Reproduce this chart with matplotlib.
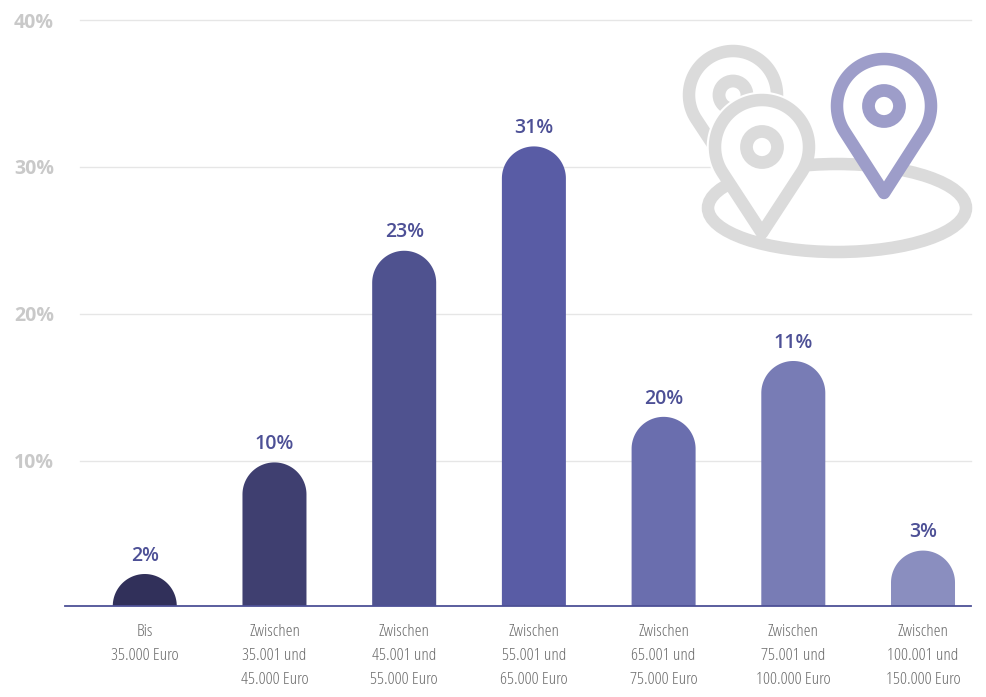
import numpy as np
import matplotlib
matplotlib.use("Agg")
import matplotlib.pyplot as plt
from matplotlib.patches import PathPatch, Ellipse, Circle, Rectangle
from matplotlib.path import Path

categories = ["Bis\n35.000 Euro", "Zwischen\n35.001 und\n45.000 Euro", "Zwischen\n45.001 und\n55.000 Euro",
              "Zwischen\n55.001 und\n65.000 Euro", "Zwischen\n65.001 und\n75.000 Euro",
              "Zwischen\n75.001 und\n100.000 Euro", "Zwischen\n100.001 und\n150.000 Euro"]
# the bar heights in the picture do not agree with the printed labels
bar_values = [2.3, 9.9, 24.3, 31.4, 13.0, 16.8, 3.9]
bar_labels = ["2%", "10%", "23%", "31%", "20%", "11%", "3%"]
bar_colors = ["#31305a", "#3f3f70", "#4f528f", "#595ca5", "#6a6eae", "#787cb5", "#8a8ebf"]
y_ticks = [10, 20, 30, 40]

GREY = "#dbdbdb"
PURPLE = "#9d9dc9"

W, H = 986, 697
fig = plt.figure(figsize=(W / 100, H / 100), dpi=100)
ax = fig.add_axes([65 / W, 1 - 606 / H, (971 - 65) / W, (606 - 20) / H])
ax.set_xlim(-0.615, 6.37)
ax.set_ylim(0.13, 40)

bar_w = 64 / 129.7
rx = bar_w / 2
ry = 32 / 14.7
base = 0.13
for i, (v, c) in enumerate(zip(bar_values, bar_colors)):
    t = np.linspace(np.pi, 0, 60)
    xs = i + rx * np.cos(t)
    ys = max(v - ry, base) + ry * np.sin(t)
    verts = [(i - rx, base)] + list(zip(xs, ys)) + [(i + rx, base), (i - rx, base)]
    ax.add_patch(PathPatch(Path(verts, closed=True), fc=c, ec="none", zorder=3))
    ax.annotate(bar_labels[i], (i, v), xytext=(0, 6), textcoords="offset points", ha="center", va="bottom",
                fontsize=14, fontweight="semibold", fontstretch="normal", family="Open Sans", color="#4d5096")

# grid starts a bit right of the axis line
for y in y_ticks:
    ax.plot([15 / 906, 1], [y, y], transform=ax.get_yaxis_transform(), color="#e6e6e6", lw=1, zorder=1,
            clip_on=False)

for s in ["top", "right", "left"]:
    ax.spines[s].set_visible(False)
ax.spines["bottom"].set_color("#4d5096")
ax.spines["bottom"].set_linewidth(1.3)
ax.spines["bottom"].set_zorder(4)

ax.set_xticks(range(len(categories)))
ax.set_xticklabels(categories, family="Open Sans", fontstretch="condensed", fontweight="light", fontsize=12.5,
                   color="#6b6b6b", linespacing=1.65)
ax.set_yticks(y_ticks)
ax.set_yticklabels([f"{y}%" for y in y_ticks], family="Open Sans", fontstretch="condensed", fontweight="bold",
                   fontsize=14, color="#c9c9c9")
ax.tick_params(axis="x", length=0, pad=13)
ax.tick_params(axis="y", length=0, pad=8)

# location icon, drawn in pixel coordinates
icon = fig.add_axes([0, 0, 1, 1], facecolor="none")
icon.set_xlim(0, W)
icon.set_ylim(H, 0)
icon.axis("off")


def pin_path(cx, cy, r, tip_y):
    d = tip_y - cy
    a = np.arccos(r / d)
    t = np.linspace(np.pi / 2 + a, np.pi / 2 - a + 2 * np.pi, 120)
    verts = [(cx, tip_y)] + list(zip(cx + r * np.cos(t), cy + r * np.sin(t))) + [(cx, tip_y)]
    return Path(verts, closed=True)


def pin(cx, cy, r, tip_y, color, ring_r, lw=9, ring_lw=9.2):
    icon.add_patch(PathPatch(pin_path(cx, cy, r, tip_y), fc="white", ec=color, lw=lw, joinstyle="round"))
    icon.add_patch(Circle((cx, cy), ring_r, fc="none", ec=color, lw=ring_lw))


icon.add_patch(Rectangle((712, 40), 274, 222, fc="white", ec="none"))
pin(733, 95, 44, 175, GREY, 14)
# white halo only cuts the back pin, the ring goes under the front pin directly
icon.add_patch(PathPatch(pin_path(762, 147, 47, 233), fc="white", ec="white", lw=12, joinstyle="round"))
icon.add_patch(Ellipse((837, 208), 258, 88, fc="none", ec=GREY, lw=9))
pin(762, 147, 47, 233, GREY, 15.5)
pin(884, 106, 47, 193, PURPLE, 15.5)

fig.savefig("out.png", dpi=100)
